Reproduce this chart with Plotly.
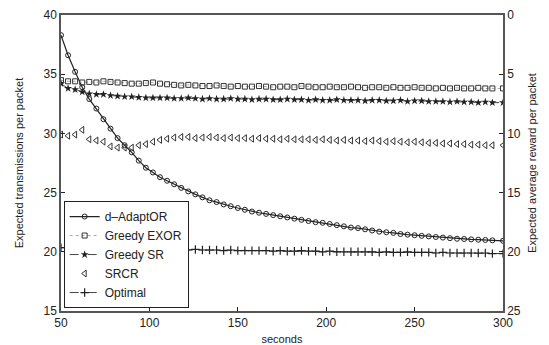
import plotly.graph_objects as go

seconds = [50, 54, 58, 62, 66, 70, 74, 78, 82, 86, 90, 94, 98, 102, 106, 110, 114, 118, 122, 126,
           130, 134, 138, 142, 146, 150, 154, 158, 162, 166, 170, 174, 178, 182, 186, 190, 194, 198,
           202, 206, 210, 214, 218, 222, 226, 230, 234, 238, 242, 246, 250, 254, 258, 262, 266, 270,
           274, 278, 282, 286, 290, 294, 300]

d_adaptor = [38.3, 36.6, 35.2, 33.9, 32.9, 32.1, 31.2, 30.4, 29.6, 29.0, 28.4, 27.7, 27.1, 26.7, 26.3,
             26.0, 25.7, 25.4, 25.1, 24.85, 24.6, 24.35, 24.2, 24.0, 23.85, 23.7, 23.55, 23.4, 23.3,
             23.2, 23.1, 23.0, 22.9, 22.8, 22.7, 22.6, 22.5, 22.45, 22.35, 22.25, 22.15, 22.05, 22.0,
             21.9, 21.8, 21.7, 21.65, 21.6, 21.5, 21.45, 21.4, 21.35, 21.3, 21.25, 21.2, 21.15, 21.1,
             21.08, 21.05, 21.02, 21.0, 20.97, 20.93]

greedy_exor = [34.5, 34.4, 34.4, 34.3, 34.35, 34.3, 34.4, 34.35, 34.3, 34.25, 34.2, 34.2, 34.25, 34.3,
               34.2, 34.15, 34.1, 34.05, 34.1, 34.05, 34.0, 34.0, 34.05, 34.0, 33.95, 34.0, 33.95,
               33.95, 34.0, 33.95, 33.9, 33.95, 33.95, 33.9, 34.0, 33.95, 33.9, 33.9, 33.95, 33.9, 33.9,
               33.95, 33.9, 33.85, 33.9, 33.9, 33.85, 33.9, 33.85, 33.85, 33.9, 33.85, 33.85, 33.8,
               33.85, 33.8, 33.85, 33.8, 33.8, 33.85, 33.8, 33.8, 33.8]

greedy_sr = [34.2, 33.8, 33.7, 33.5, 33.35, 33.3, 33.3, 33.2, 33.15, 33.1, 33.1, 33.05, 33.0, 33.0, 33.0,
             33.0, 32.95, 32.95, 33.0, 32.95, 32.9, 32.95, 32.9, 32.9, 32.95, 32.9, 32.9, 32.85, 32.9,
             32.9, 32.85, 32.85, 32.9, 32.85, 32.85, 32.8, 32.85, 32.8, 32.8, 32.85, 32.8, 32.8, 32.8,
             32.75, 32.8, 32.8, 32.75, 32.75, 32.8, 32.7, 32.75, 32.75, 32.7, 32.7, 32.7, 32.65, 32.7,
             32.65, 32.65, 32.6, 32.65, 32.6, 32.6]

srcr = [29.9, 29.8, 29.9, 30.3, 29.5, 29.4, 29.3, 28.9, 28.8, 28.8, 28.8, 29.0, 29.1, 29.3, 29.45,
        29.55, 29.65, 29.7, 29.7, 29.6, 29.65, 29.7, 29.65, 29.6, 29.65, 29.6, 29.6, 29.55, 29.6,
        29.55, 29.55, 29.5, 29.55, 29.5, 29.5, 29.5, 29.45, 29.5, 29.45, 29.4, 29.45, 29.4, 29.4,
        29.35, 29.4, 29.35, 29.3, 29.35, 29.3, 29.25, 29.3, 29.25, 29.2, 29.2, 29.15, 29.15, 29.1,
        29.1, 29.05, 29.05, 29.0, 29.0, 29.0]

optimal = [20.35, 20.35, 20.3, 20.3, 20.3, 20.3, 20.25, 20.25, 20.25, 20.25, 20.2, 20.2, 20.2, 20.2,
           20.2, 20.2, 20.2, 20.2, 20.15, 20.2, 20.15, 20.15, 20.15, 20.1, 20.15, 20.1, 20.1, 20.1,
           20.1, 20.1, 20.05, 20.1, 20.05, 20.05, 20.1, 20.05, 20.05, 20.0, 20.05, 20.0, 20.0, 20.0,
           20.0, 20.0, 20.0, 19.95, 20.0, 19.95, 19.95, 20.0, 19.95, 19.95, 19.95, 19.9, 19.95, 19.9,
           19.9, 19.9, 19.9, 19.9, 19.9, 19.85, 19.85]

x_ticks = [50, 100, 150, 200, 250, 300]
left_ticks = [15, 20, 25, 30, 35, 40]
right_ticks = [0, 5, 10, 15, 20, 25]

FONT = "Liberation Sans, Arial, sans-serif"
INK = "#222222"

fig = go.Figure()
fig.add_trace(go.Scatter(x=seconds, y=d_adaptor, name="d\u2013AdaptOR", mode="lines+markers",
                         line=dict(color=INK, width=1.2),
                         marker=dict(symbol="circle-open", size=5, color=INK, line=dict(width=1))))
fig.add_trace(go.Scatter(x=seconds, y=greedy_exor, name="Greedy EXOR", mode="lines+markers",
                         line=dict(color="#aaaaaa", width=1, dash="dot"),
                         marker=dict(symbol="square-open", size=5, color="#333333", line=dict(width=1))))
fig.add_trace(go.Scatter(x=seconds, y=greedy_sr, name="Greedy SR", mode="lines+markers",
                         line=dict(color="#444444", width=1, dash="dash"),
                         marker=dict(symbol="star", size=6, color="#222222")))
fig.add_trace(go.Scatter(x=seconds, y=srcr, name="SRCR", mode="markers",
                         marker=dict(symbol="triangle-left-open", size=6, color="#333333", line=dict(width=1))))
fig.add_trace(go.Scatter(x=seconds, y=optimal, name="Optimal", mode="lines+markers",
                         line=dict(color="#444444", width=1, dash="dashdot"),
                         marker=dict(symbol="cross-thin-open", size=6, color="#222222", line=dict(width=1.2))))
# invisible trace to activate the right axis
fig.add_trace(go.Scatter(x=[seconds[0]], y=[right_ticks[0]], yaxis="y2", mode="markers",
                         marker=dict(opacity=0), showlegend=False, hoverinfo="skip"))

fig.update_layout(
    width=549, height=345,
    margin=dict(l=61, r=46, t=15, b=34, autoexpand=False),
    paper_bgcolor="white", plot_bgcolor="white",
    font=dict(family=FONT, color=INK, size=12),
    showlegend=True,
    legend=dict(x=0.006, y=0.01, xanchor="left", yanchor="bottom",
                bgcolor="white", bordercolor=INK, borderwidth=1,
                font=dict(size=12, family=FONT), itemwidth=30, tracegroupgap=0),
    xaxis=dict(range=[50, 300], tickvals=x_ticks, ticks="inside", ticklen=4, tickcolor=INK,
               showline=True, linecolor="#555555", linewidth=1.5, mirror=True, showgrid=False,
               zeroline=False, tickfont=dict(size=12), automargin=False,
               title=dict(text="seconds", font=dict(size=11), standoff=14)),
    yaxis=dict(range=[15, 40], tickvals=left_ticks, ticks="inside", ticklen=4, tickcolor=INK,
               showline=True, linecolor="#555555", linewidth=1.5, showgrid=False, zeroline=False,
               tickfont=dict(size=12), automargin=False,
               title=dict(text="Expected transmissions per packet", font=dict(size=11), standoff=18)),
    yaxis2=dict(range=[25, 0], tickvals=right_ticks, overlaying="y", side="right", anchor="x",
                ticks="inside", ticklen=4, tickcolor=INK, showline=True, linecolor="#555555",
                linewidth=1.5, showgrid=False, zeroline=False, tickfont=dict(size=12), automargin=False,
                title=dict(text="Expected average reward per packet", font=dict(size=11), standoff=8)),
)

fig.write_html("out.html")
